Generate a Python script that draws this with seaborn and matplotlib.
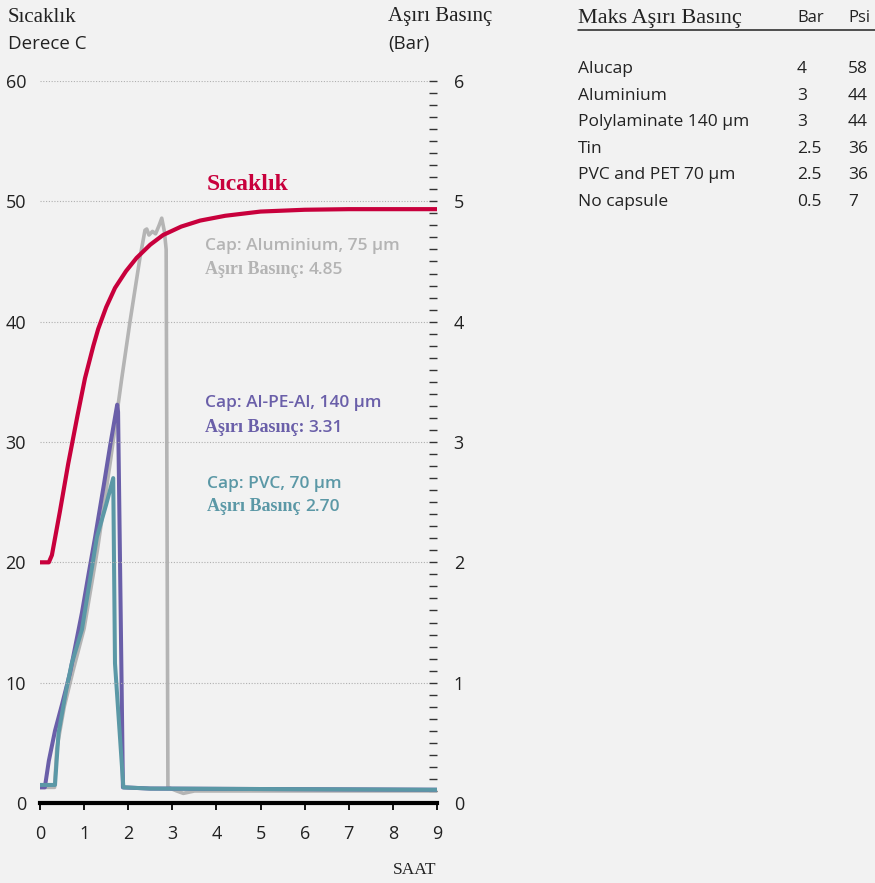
import numpy as np
import pandas as pd
import seaborn as sns
import matplotlib.pyplot as plt
from matplotlib.ticker import MultipleLocator

# temperature curve (Derece C) over hours
temp_t = [0, 0.2, 0.27, 0.45, 0.64, 0.85, 1.02, 1.21, 1.32, 1.5, 1.7, 1.95,
          2.19, 2.5, 2.79, 3.2, 3.63, 4.2, 5.0, 6.0, 7.0, 8.0, 9.0]
temp_v = [20, 20, 20.6, 24.2, 28.2, 32.2, 35.3, 38.0, 39.4, 41.2, 42.8, 44.2,
          45.3, 46.4, 47.2, 47.9, 48.4, 48.8, 49.15, 49.3, 49.35, 49.35, 49.35]

# over-pressure (bar) per cap
alu_t = [0, 0.33, 0.38, 0.55, 0.75, 1.0, 1.3, 1.6, 1.85, 2.04, 2.27, 2.38, 2.42,
         2.47, 2.55, 2.62, 2.7, 2.76, 2.82, 2.86, 2.9, 3.1, 3.25, 3.5, 9.0]
alu_v = [0.13, 0.13, 0.45, 0.8, 1.1, 1.45, 2.1, 2.85, 3.52, 4.0, 4.54, 4.76, 4.77,
         4.72, 4.75, 4.73, 4.8, 4.86, 4.75, 4.6, 0.13, 0.1, 0.08, 0.1, 0.1]

pe_t = [0, 0.11, 0.2, 0.34, 0.5, 0.68, 0.95, 1.1, 1.25, 1.45, 1.59, 1.75, 1.77, 1.88, 2.5, 9.0]
pe_v = [0.13, 0.13, 0.35, 0.6, 0.82, 1.08, 1.58, 1.9, 2.21, 2.65, 2.97, 3.31, 3.25, 0.13, 0.12, 0.11]

pvc_t = [0, 0.34, 0.42, 0.6, 0.72, 0.95, 1.1, 1.29, 1.5, 1.66, 1.7, 1.89, 2.5, 9.0]
pvc_v = [0.15, 0.15, 0.58, 0.95, 1.16, 1.44, 1.78, 2.21, 2.48, 2.7, 1.16, 0.13, 0.12, 0.11]

# table
caps = ["Alucap", "Aluminium", "Polylaminate 140 µm", "Tin", "PVC and PET 70 µm", "No capsule"]
bar_vals = ["4", "3", "3", "2.5", "2.5", "0.5"]
psi_vals = ["58", "44", "44", "36", "36", "7"]

RED = "#c8003c"
GRAY = "#b4b4b4"
PURPLE = "#6a5fa9"
TEAL = "#5b98a6"
INK = "#222222"
BG = "#f2f2f2"
SERIF = ["Liberation Serif", "DejaVu Serif"]
SANS = ["Open Sans", "DejaVu Sans"]

sns.set_theme(style="white")
plt.rcParams["font.family"] = SANS

W, H = 875, 883
fig = plt.figure(figsize=(W / 100, H / 100), dpi=100, facecolor=BG)
ax = fig.add_axes([40 / W, 80 / H, 397 / W, 722 / H])
ax2 = ax.twinx()
ax.set_zorder(2)
ax2.set_zorder(1)
ax.patch.set_visible(False)
ax2.patch.set_visible(False)

df_temp = pd.DataFrame({"saat": temp_t, "deg": temp_v})
for t, v, c, lw in [(alu_t, alu_v, GRAY, 2.6), (pe_t, pe_v, PURPLE, 2.9), (pvc_t, pvc_v, TEAL, 2.9)]:
    d = pd.DataFrame({"saat": t, "bar": v})
    sns.lineplot(data=d, x="saat", y="bar", ax=ax2, color=c, linewidth=lw,
                 sort=False, estimator=None)
sns.lineplot(data=df_temp, x="saat", y="deg", ax=ax, color=RED, linewidth=3,
             sort=False, estimator=None)

ax.set_xlim(0, 9)
ax.set_ylim(0, 60)
ax2.set_ylim(0, 6)
for y in range(10, 61, 10):
    ax.axhline(y, xmin=0, xmax=0.977, color="#b0b0b0", lw=0.8, ls=(0, (1, 1.5)), zorder=0)

for a in (ax, ax2):
    a.set_xlabel("")
    a.set_ylabel("")
    for s in ["top", "left", "right"]:
        a.spines[s].set_visible(False)
ax2.spines["bottom"].set_visible(False)
ax.spines["bottom"].set_linewidth(3)
ax.spines["bottom"].set_color("black")
ax.spines["bottom"].set_zorder(5)

ax.set_xticks(range(0, 10))
ax.set_yticks(range(0, 61, 10))
ax.tick_params(axis="x", direction="out", length=5, width=1.3, color="black",
               labelsize=13, labelcolor=INK, pad=11, bottom=True)
ax.tick_params(axis="y", length=0, labelsize=13, labelcolor=INK, pad=10)
ax2.set_yticks(range(0, 7))
ax2.yaxis.set_minor_locator(MultipleLocator(0.1))
ax2.tick_params(axis="y", which="both", direction="in", length=6, width=1,
                color="#333333", right=True)
ax2.tick_params(axis="y", which="major", labelsize=13, labelcolor=INK, pad=12)


def ftext(x, y, s, **kw):
    kw.setdefault("va", "center")
    return fig.text(x / W, 1 - y / H, s, **kw)


# axis headers
ftext(8, 17, "Sıcaklık", family=SERIF, fontsize=15, color=INK)
ftext(8, 44, "Derece C", family=SANS, fontsize=13.5, color=INK)
ftext(388, 17, "Aşırı Basınç", family=SERIF, fontsize=15, color=INK)
ftext(388, 44, "(Bar)", family=SANS, fontsize=13.5, color=INK)
ftext(415, 870, "SAAT", family=SERIF, fontsize=12.5, color=INK, ha="center")

# annotations in data coordinates
ax.text(3.79, 51.4, "Sıcaklık", family=SERIF, fontsize=17, fontweight="bold",
        color=RED, va="center")


def label(x, y1, y2, cap, val, color, colon=True):
    ax.text(x, y1, cap, family=SANS, fontsize=12.5, fontweight="semibold",
            color=color, va="center")
    head = ax.text(x, y2, "Aşırı Basınç" + (":" if colon else ""), family=SERIF,
                   fontsize=13, fontweight="bold", color=color, va="center")
    ax.annotate(val, xy=(1, 0.5), xycoords=head, xytext=(3, 0), textcoords="offset points",
                family=SANS, fontsize=12.5, color=color, va="center", fontweight="semibold")


label(3.74, 46.3, 44.3, "Cap: Aluminium, 75 µm", "4.85", GRAY)
label(3.74, 33.2, 31.2, "Cap: Al-PE-Al, 140 µm", "3.31", PURPLE)
label(3.79, 26.5, 24.6, "Cap: PVC, 70 µm", "2.70", TEAL, colon=False)

# table
ftext(578, 19, "Maks Aşırı Basınç", family=SERIF, fontsize=16, color=INK)
ftext(797, 18, "Bar", family=SANS, fontsize=12, color=INK)
ftext(848, 18, "Psi", family=SANS, fontsize=12, color=INK)
fig.add_artist(plt.Line2D([578 / W, 1.0], [1 - 29.5 / H, 1 - 29.5 / H],
                          color=INK, lw=1.1))
for i, (n, b, p) in enumerate(zip(caps, bar_vals, psi_vals)):
    y = 69 + i * 26.6
    ftext(578, y, n, family=SANS, fontsize=12.5, color=INK)
    ftext(797, y, b, family=SANS, fontsize=12.5, color=INK)
    ftext(848, y, p, family=SANS, fontsize=12.5, color=INK)

fig.savefig("out.png", dpi=100, facecolor=BG)
